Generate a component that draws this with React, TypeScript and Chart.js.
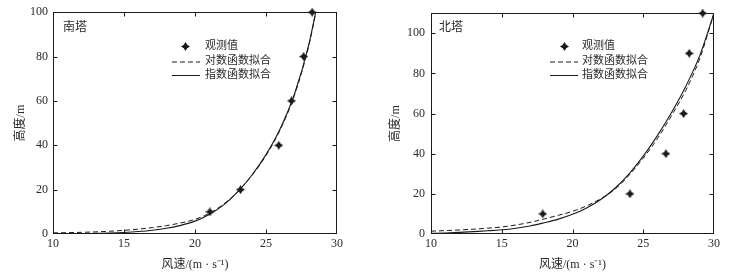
import React, { useEffect, useRef } from 'react';
import { Chart, registerables } from 'chart.js';

Chart.register(...registerables);

// ---------- data ----------
const xTickValues = [10, 15, 20, 25, 30];

// 南塔 (south tower)
const southObsSpeed = [21.05, 23.2, 25.9, 26.8, 27.65, 28.25];
const southObsHeight = [10, 20, 40, 60, 80, 100];
const southFitSpeed = [10, 11, 12, 13, 14, 15, 16, 17, 18, 19, 20, 21, 22, 23, 24, 25, 26, 27, 28, 28.5];
const southLogFit = [0.5, 0.6, 0.75, 0.95, 1.25, 1.65, 2.2, 2.9, 3.8, 5.0, 6.6, 9.3, 13.4, 19, 26.3, 35.4, 47, 62.5, 84.5, 99.5];
const southPowFit = [0.05, 0.1, 0.15, 0.3, 0.45, 0.7, 1.1, 1.7, 2.6, 3.9, 5.8, 8.8, 13, 19, 26.5, 35.8, 47.5, 63, 85, 100];

// 北塔 (north tower)
const northObsSpeed = [17.9, 24.06, 26.6, 27.85, 28.25, 29.2];
const northObsHeight = [10, 20, 40, 60, 90, 110];
const northFitSpeed = [10, 11, 12, 13, 14, 15, 16, 17, 18, 19, 20, 21, 22, 23, 24, 25, 26, 27, 28, 29, 30];
const northLogFit = [1.4, 1.7, 2.0, 2.4, 2.9, 3.5, 4.5, 5.8, 7.5, 9.3, 11.3, 14.0, 17.6, 22.3, 29.3, 37.8, 47.5, 59, 71.5, 87.5, 110];
const northPowFit = [0.3, 0.5, 0.8, 1.2, 1.6, 2.1, 2.9, 4.0, 5.6, 7.4, 9.8, 13.0, 17.2, 22.8, 30, 38.8, 49, 60.5, 73.5, 89, 110];

const legendLabels = ['观测值', '对数函数拟合', '指数函数拟合'];
const xTitle = '风速/(m · s⁻¹)';
const yTitle = '高度/m';

const FONT = '"Liberation Serif", "Noto Sans CJK SC", serif';
const INK = '#1a1a1a';
const TEXT = '#2a2a2a';

function makeStar(size: number, color: string): HTMLCanvasElement {
  const c = document.createElement('canvas');
  c.width = size;
  c.height = size;
  const g = c.getContext('2d')!;
  const r = size / 2;
  const ri = size * 0.27;
  g.beginPath();
  for (let i = 0; i < 8; i++) {
    const a = -Math.PI / 2 + (i * Math.PI) / 4;
    const rr = i % 2 === 0 ? r : ri;
    const px = r + rr * Math.cos(a);
    const py = r + rr * Math.sin(a);
    if (i === 0) g.moveTo(px, py);
    else g.lineTo(px, py);
  }
  g.closePath();
  g.fillStyle = color;
  g.fill();
  return c;
}

type PanelCfg = {
  name: string;
  obsX: number[];
  obsY: number[];
  fitX: number[];
  logY: number[];
  powY: number[];
  yMax: number;
  yAxisWidth: number;
  yTitlePad: number;
  yTickPad: number;
  padRight: number;
  legendLineX: number;
  legendTextX: number;
  legendMarkerX: number;
  nameX: number;
};

const frameLegendPlugin = {
  id: 'frameLegend',
  afterDatasetsDraw(chart: any, _args: any, opts: any) {
    const { ctx, chartArea: a, scales } = chart;
    const xs = scales.x;
    const ys = scales.y;
    ctx.save();
    ctx.strokeStyle = INK;
    ctx.lineWidth = 1;
    const L = Math.round(a.left) + 0.5;
    const R = Math.round(a.right) - 0.5;
    const T = Math.round(a.top) + 0.5;
    const B = Math.round(a.bottom) - 0.5;
    ctx.strokeRect(L, T, R - L, B - T);
    const tl = 4;
    ctx.beginPath();
    ys.ticks.forEach((t: any) => {
      if (t.value <= ys.min || t.value >= ys.max) return;
      const py = Math.round(ys.getPixelForValue(t.value)) + 0.5;
      ctx.moveTo(L, py);
      ctx.lineTo(L + tl, py);
      ctx.moveTo(R, py);
      ctx.lineTo(R - tl, py);
    });
    xs.ticks.forEach((t: any) => {
      if (t.value <= xs.min || t.value >= xs.max) return;
      const px = Math.round(xs.getPixelForValue(t.value)) + 0.5;
      ctx.moveTo(px, B);
      ctx.lineTo(px, B - tl);
      ctx.moveTo(px, T);
      ctx.lineTo(px, T + tl);
    });
    ctx.stroke();

    // panel name
    ctx.fillStyle = TEXT;
    ctx.font = '12px ' + FONT;
    ctx.textBaseline = 'middle';
    ctx.textAlign = 'left';
    ctx.fillText(opts.name, opts.nameX, 28);

    // legend
    ctx.font = '11px ' + FONT;
    const rows = [46, 61.5, 75];
    const star = opts.star as HTMLCanvasElement;
    ctx.drawImage(star, Math.round(opts.legendMarkerX - star.width / 2), Math.round(rows[0] - star.height / 2));
    ctx.strokeStyle = INK;
    ctx.lineWidth = 1;
    ctx.setLineDash([5, 3]);
    ctx.beginPath();
    ctx.moveTo(opts.legendLineX, rows[1] + 0.5);
    ctx.lineTo(opts.legendLineX + 28, rows[1] + 0.5);
    ctx.stroke();
    ctx.setLineDash([]);
    ctx.beginPath();
    ctx.moveTo(opts.legendLineX, rows[2] + 0.5);
    ctx.lineTo(opts.legendLineX + 28, rows[2] + 0.5);
    ctx.stroke();
    legendLabels.forEach((s, i) => ctx.fillText(s, opts.legendTextX, rows[i]));
    ctx.restore();
  },
};

function buildChart(canvas: HTMLCanvasElement, p: PanelCfg, star: HTMLCanvasElement) {
  const toPts = (xs: number[], ys: number[]) => xs.map((x, i) => ({ x, y: ys[i] }));
  return new Chart(canvas, {
    type: 'scatter',
    data: {
      datasets: [
        {
          label: legendLabels[0],
          data: toPts(p.obsX, p.obsY),
          pointStyle: star as any,
          pointRadius: 4,
          showLine: false,
          clip: false as any,
          order: 0,
        },
        {
          label: legendLabels[1],
          data: toPts(p.fitX, p.logY),
          showLine: true,
          borderColor: INK,
          borderWidth: 1,
          borderDash: [5, 3],
          pointRadius: 0,
          cubicInterpolationMode: 'monotone',
          order: 1,
        },
        {
          label: legendLabels[2],
          data: toPts(p.fitX, p.powY),
          showLine: true,
          borderColor: INK,
          borderWidth: 1.1,
          pointRadius: 0,
          cubicInterpolationMode: 'monotone',
          order: 2,
        },
      ],
    },
    options: {
      responsive: false,
      animation: false,
      devicePixelRatio: 1,
      layout: { padding: { top: 12, right: p.padRight, left: 0, bottom: 0 } },
      plugins: {
        legend: { display: false },
        tooltip: { enabled: false },
        frameLegend: {
          name: p.name,
          nameX: p.nameX,
          legendLineX: p.legendLineX,
          legendTextX: p.legendTextX,
          legendMarkerX: p.legendMarkerX,
          star,
        },
      } as any,
      scales: {
        x: {
          type: 'linear',
          min: 10,
          max: 30,
          afterBuildTicks: (s: any) => {
            s.ticks = xTickValues.map((v) => ({ value: v }));
          },
          afterFit: (s: any) => {
            s.height = 42;
          },
          grid: { display: false, drawTicks: false },
          border: { display: false },
          ticks: { color: TEXT, font: { family: FONT, size: 12 }, padding: 3, maxRotation: 0 },
          title: {
            display: true,
            text: xTitle,
            color: TEXT,
            font: { family: FONT, size: 12 },
            padding: { top: 0, bottom: 4 },
          },
        },
        y: {
          type: 'linear',
          min: 0,
          max: p.yMax,
          afterBuildTicks: (s: any) => {
            s.ticks = s.ticks.filter((t: any) => t.value % 20 === 0);
          },
          afterFit: (s: any) => {
            s.width = p.yAxisWidth;
          },
          grid: { display: false, drawTicks: false },
          border: { display: false },
          ticks: { color: TEXT, font: { family: FONT, size: 12 }, padding: p.yTickPad, stepSize: 20 },
          title: {
            display: true,
            text: yTitle,
            color: TEXT,
            font: { family: FONT, size: 12 },
            padding: { top: p.yTitlePad, bottom: 0 },
          },
        },
      },
    },
    plugins: [frameLegendPlugin as any],
  });
}

const southCfg: PanelCfg = {
  name: '南塔',
  obsX: southObsSpeed,
  obsY: southObsHeight,
  fitX: southFitSpeed,
  logY: southLogFit,
  powY: southPowFit,
  yMax: 100,
  yAxisWidth: 53,
  yTitlePad: 14,
  yTickPad: 5,
  padRight: 31,
  legendLineX: 172,
  legendTextX: 205,
  legendMarkerX: 185,
  nameX: 63,
};

const northCfg: PanelCfg = {
  name: '北塔',
  obsX: northObsSpeed,
  obsY: northObsHeight,
  fitX: northFitSpeed,
  logY: northLogFit,
  powY: northPowFit,
  yMax: 110,
  yAxisWidth: 53,
  yTitlePad: 11,
  yTickPad: 6,
  padRight: 22,
  legendLineX: 550 - 378,
  legendTextX: 582 - 378,
  legendMarkerX: 564 - 378,
  nameX: 439 - 378,
};

export default function App() {
  const leftRef = useRef<HTMLCanvasElement>(null);
  const rightRef = useRef<HTMLCanvasElement>(null);

  useEffect(() => {
    const star = makeStar(9, INK);
    const c1 = buildChart(leftRef.current!, southCfg, star);
    const c2 = buildChart(rightRef.current!, northCfg, star);
    return () => {
      c1.destroy();
      c2.destroy();
    };
  }, []);

  return (
    <div style={{ position: 'fixed', left: 0, top: 0, width: 736, height: 276, background: '#fff' }}>
      <canvas ref={leftRef} width={368} height={276} style={{ position: 'absolute', left: 0, top: 0 }} />
      <canvas ref={rightRef} width={358} height={276} style={{ position: 'absolute', left: 378, top: 0 }} />
    </div>
  );
}
